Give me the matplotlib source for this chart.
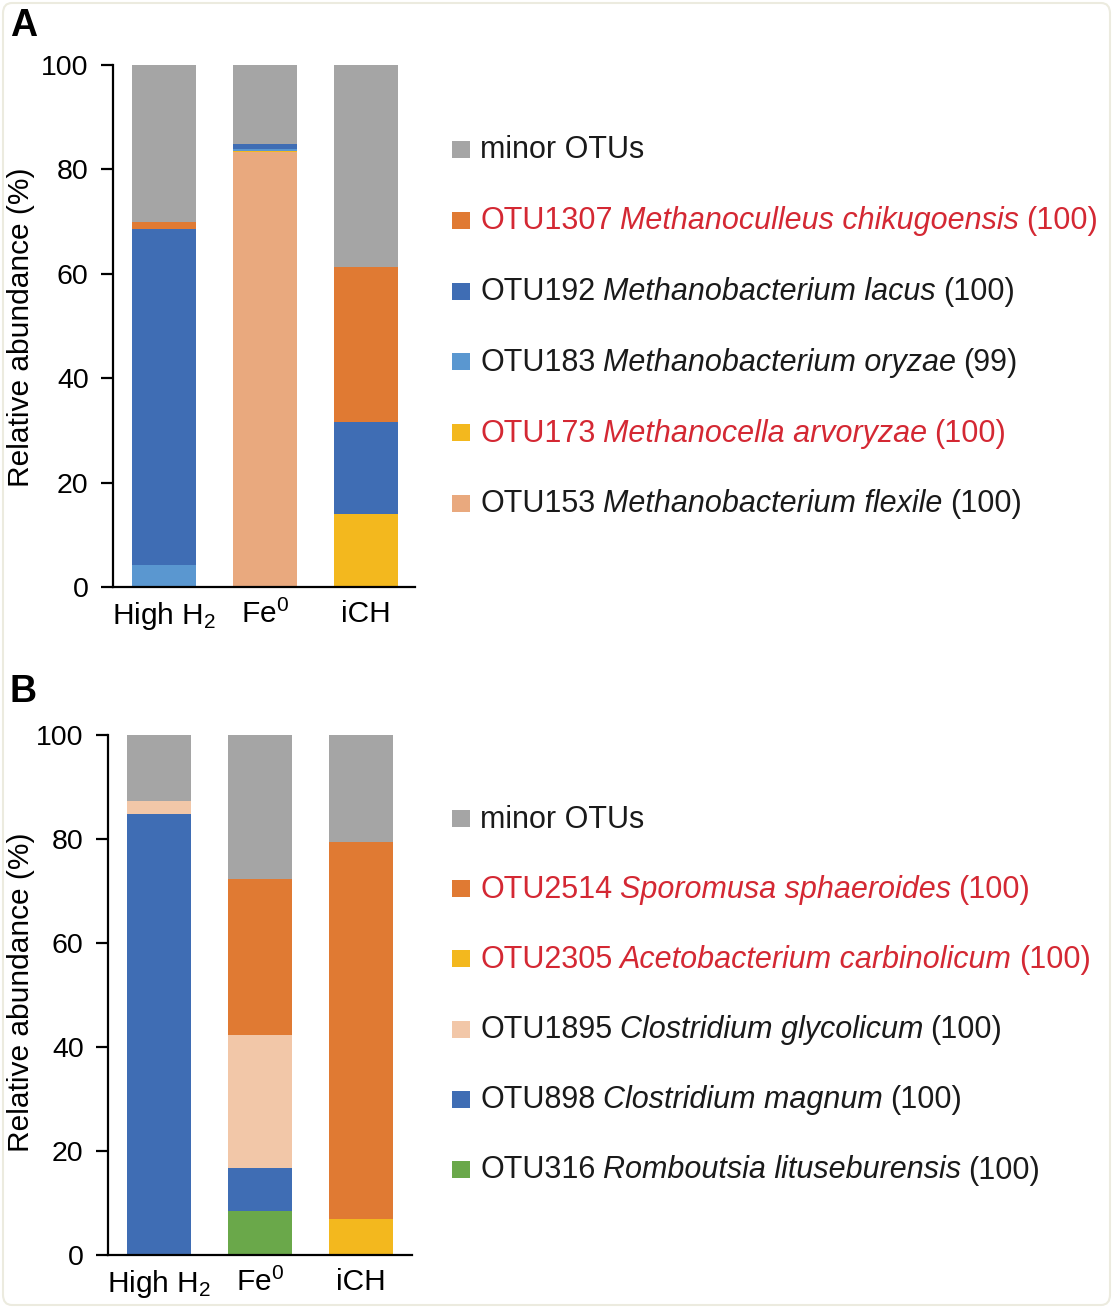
import matplotlib
matplotlib.use("Agg")
import matplotlib.pyplot as plt
from matplotlib.patches import Rectangle, FancyBboxPatch
import numpy as np

plt.rcParams['font.family'] = ['Liberation Sans', 'DejaVu Sans']
plt.rcParams['mathtext.fontset'] = 'custom'
plt.rcParams['mathtext.rm'] = 'Liberation Sans'
plt.rcParams['mathtext.it'] = 'Liberation Sans:italic'
plt.rcParams['mathtext.default'] = 'regular'

# ---------------- data ----------------
groups = ['High H$_2$', 'Fe$^0$', 'iCH']

# Panel A (legend order, top to bottom; stacked in reverse)
A_ids = ['minor OTUs', 'OTU1307', 'OTU192', 'OTU183', 'OTU173', 'OTU153']
A_species = ['', 'Methanoculleus chikugoensis', 'Methanobacterium lacus',
             'Methanobacterium oryzae', 'Methanocella arvoryzae', 'Methanobacterium flexile']
A_ident = ['', '(100)', '(100)', '(99)', '(100)', '(100)']
A_red = [False, True, False, False, True, False]
A_colors = ['#a5a5a5', '#e07a33', '#3f6db4', '#5a97d0', '#f3b81e', '#e9a97e']
A_minor = [30.1, 15.2, 38.7]
A_otu1307 = [1.3, 0.0, 29.6]
A_otu192 = [64.4, 0.8, 17.8]
A_otu183 = [4.2, 0.4, 0.0]
A_otu173 = [0.0, 0.3, 13.9]
A_otu153 = [0.0, 83.3, 0.0]
A_values = [A_minor, A_otu1307, A_otu192, A_otu183, A_otu173, A_otu153]

# Panel B
B_ids = ['minor OTUs', 'OTU2514', 'OTU2305', 'OTU1895', 'OTU898', 'OTU316']
B_species = ['', 'Sporomusa sphaeroides', 'Acetobacterium carbinolicum',
             'Clostridium glycolicum', 'Clostridium magnum', 'Romboutsia lituseburensis']
B_ident = ['', '(100)', '(100)', '(100)', '(100)', '(100)']
B_red = [False, True, True, False, False, False]
B_colors = ['#a5a5a5', '#e07a33', '#f3b81e', '#f2c7a8', '#3f6db4', '#6aa84a']
B_minor = [12.7, 27.7, 20.6]
B_otu2514 = [0.0, 30.0, 72.5]
B_otu2305 = [0.0, 0.0, 6.9]
B_otu1895 = [2.5, 25.6, 0.0]
B_otu898 = [84.8, 8.2, 0.0]
B_otu316 = [0.0, 8.5, 0.0]
B_values = [B_minor, B_otu2514, B_otu2305, B_otu1895, B_otu898, B_otu316]

yticks = [0, 20, 40, 60, 80, 100]

RED = '#d42833'
FS_TICK = 20.5
FS_X = 21.5
FS_LEG = 22
FS_YL = 21.5

W, H = 1113, 1308
fig = plt.figure(figsize=(W / 100, H / 100), dpi=100)

# faint frame
fig.add_artist(FancyBboxPatch((3 / W, 3 / H), 1 - 6 / W, 1 - 6 / H,
                              boxstyle='round,pad=0,rounding_size=0.008',
                              transform=fig.transFigure, fc='white',
                              ec='#ecebdf', lw=1.5, zorder=-10))


def px(x, y):
    return x / W, 1 - y / H


def draw_panel(rect, values, colors, xl, ylab_y):
    ax = fig.add_axes(rect)
    x = np.arange(len(groups))
    bottom = np.zeros(len(groups))
    for vals, col in zip(values[::-1], colors[::-1]):
        ax.bar(x, vals, width=0.63, bottom=bottom, color=col, edgecolor='none')
        bottom += np.array(vals)
    ax.set_xlim(*xl)
    ax.set_ylim(0, 100)
    ax.set_yticks(yticks)
    ax.set_xticks(x)
    ax.set_xticklabels(groups)
    for s in ['top', 'right']:
        ax.spines[s].set_visible(False)
    for s in ['left', 'bottom']:
        ax.spines[s].set_linewidth(1.6)
    ax.tick_params(axis='y', direction='out', length=8.5, width=1.6,
                   labelsize=FS_TICK, pad=9)
    ax.tick_params(axis='x', length=0, labelsize=FS_X, pad=9)
    fig.text(*px(21, ylab_y), 'Relative abundance (%)', fontsize=FS_YL,
             rotation=90, ha='center', va='center')
    return ax


axA = draw_panel([113 / W, 1 - 587 / H, 302 / W, 522 / H], A_values, A_colors,
                 (-0.505, 2.485), 327)
axB = draw_panel([108 / W, 1 - 1255 / H, 304 / W, 520 / H], B_values, B_colors,
                 (-0.505, 2.505), 992)

fig.text(*px(10, 36), 'A', fontsize=27, fontweight='bold', ha='left', va='baseline')
fig.text(*px(10, 702), 'B', fontsize=27, fontweight='bold', ha='left', va='baseline')

renderer = fig.canvas.get_renderer()


def legend(ids, species, ident, red, colors, y0, spacing):
    gap = 7.5
    for i in range(len(ids)):
        yc = y0 + i * spacing
        fig.add_artist(Rectangle(px(452, yc + 9), 18 / W, 17 / H,
                                 transform=fig.transFigure, color=colors[i], lw=0))
        col = RED if red[i] else '#1a1a1a'
        pieces = [(ids[i], 'normal')]
        if species[i]:
            pieces.append((species[i], 'italic'))
        if ident[i]:
            pieces.append((ident[i], 'normal'))
        xcur = 480
        for s, st in pieces:
            t = fig.text(*px(xcur, yc + 9.5), s, fontsize=FS_LEG, style=st, color=col,
                         ha='left', va='baseline')
            bb = t.get_window_extent(renderer)
            xcur = bb.x1 + gap


legend(A_ids, A_species, A_ident, A_red, A_colors, 149, 70.8)
legend(B_ids, B_species, B_ident, B_red, B_colors, 818, 70.2)

fig.savefig('out.png', dpi=100)
